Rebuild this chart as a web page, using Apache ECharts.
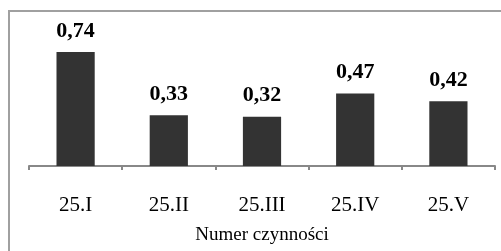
<!DOCTYPE html>
<html><head><meta charset="utf-8">
<script src="https://cdn.jsdelivr.net/npm/echarts@6/dist/echarts.min.js"></script>
<style>html,body{margin:0;padding:0;background:#fff}#c{width:501px;height:251px}</style>
</head><body><div id="c"></div>
<script>
var categories = ['25.I', '25.II', '25.III', '25.IV', '25.V'];
var values = [0.74, 0.33, 0.32, 0.47, 0.42];
var axisTitle = 'Numer czynności';

var chart = echarts.init(document.getElementById('c'), null, {renderer: 'canvas'});
chart.setOption({
  animation: false,
  backgroundColor: '#fff',
  graphic: [{
    type: 'rect', shape: {x: 9, y: 11, width: 600, height: 600},
    style: {fill: 'none', stroke: '#a0a0a0', lineWidth: 2}, silent: true
  }],
  grid: {left: 29, right: 6, top: 12, bottom: 85, containLabel: false},
  xAxis: {
    type: 'category', data: categories,
    axisLine: {lineStyle: {color: '#888', width: 2}},
    axisTick: {show: true, length: 4, lineStyle: {color: '#888', width: 2}},
    axisLabel: {fontFamily: 'Liberation Serif', fontSize: 21, color: '#000', margin: 29},
    name: axisTitle, nameLocation: 'middle', nameGap: 60,
    nameTextStyle: {fontFamily: 'Liberation Serif', fontSize: 19, color: '#000'}
  },
  yAxis: {type: 'value', min: 0, max: 1, show: false, splitLine: {show: false}},
  series: [{
    type: 'bar', data: values, barWidth: '41%',
    itemStyle: {color: '#333333'},
    label: {
      show: true, position: 'top', distance: 10,
      fontFamily: 'Liberation Serif', fontWeight: 'bold', fontSize: 22, color: '#000',
      formatter: function (p) { return p.value.toFixed(2).replace('.', ','); }
    }
  }]
});
</script></body></html>
